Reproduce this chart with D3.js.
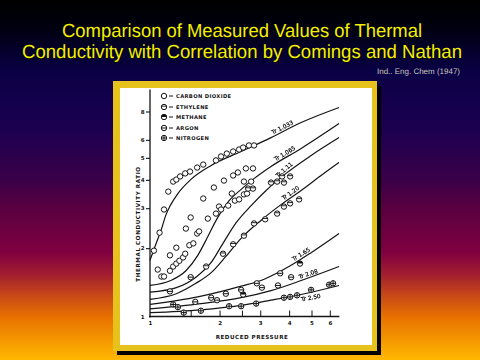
<!DOCTYPE html>
<html><head><meta charset="utf-8">
<script src="https://cdn.jsdelivr.net/npm/d3@7/dist/d3.min.js"></script>
<style>html,body{margin:0;padding:0;overflow:hidden;background:#000} text{text-rendering:geometricPrecision}</style>
</head><body>
<svg id="c" width="480" height="360"></svg>
<script>
// ---------- data ----------
const titleLines = ["Comparison of Measured Values of Thermal", "Conductivity with Correlation by Comings and Nathan"];
const sourceNote = "Ind.. Eng. Chem (1947)";
const xLabel = "REDUCED PRESSURE";
const yLabel = "THERMAL CONDUCTIVITY RATIO";
const xTickLabels = [1, 2, 3, 4, 5, 6];
const xTickMarks = [1.5, 2, 2.5, 3, 4, 5, 6];
const yTickLabels = [1, 2, 3, 4, 5, 6, 8];
const legendNames = ["CARBON DIOXIDE", "ETHYLENE", "METHANE", "ARGON", "NITROGEN"];

const curveNames = ["Tr 1.033", "Tr 1.065", "Tr 1.11", "Tr 1.20", "Tr 1.65", "Tr 2.08", "Tr 2.50"];
const tr1033Pr = [1.00, 1.06, 1.12, 1.17, 1.23, 1.32, 1.50, 1.84, 2.48, 3.34, 4.51, 6.58];
const tr1033R  = [1.77, 2.08, 2.42, 2.79, 3.11, 3.48, 4.01, 4.63, 5.33, 6.14, 7.15, 8.33];
const tr1065Pr = [1.00, 1.23, 1.43, 1.61, 1.78, 1.95, 2.20, 2.48, 2.82, 3.34, 4.51, 6.58];
const tr1065R  = [1.37, 1.44, 1.59, 1.86, 2.25, 2.70, 3.24, 3.63, 4.05, 4.58, 5.50, 7.08];
const tr111Pr  = [1.00, 1.30, 1.58, 1.84, 2.07, 2.36, 2.74, 3.18, 3.88, 4.98, 6.58];
const tr111R   = [1.28, 1.34, 1.49, 1.73, 2.10, 2.59, 3.08, 3.59, 4.27, 5.12, 6.14];
const tr120Pr  = [1.00, 1.30, 1.58, 1.84, 2.13, 2.48, 3.02, 3.69, 4.51, 5.50, 6.58];
const tr120R   = [1.19, 1.26, 1.40, 1.56, 1.84, 2.21, 2.65, 3.11, 3.59, 4.18, 4.77];
const tr165Pr  = [1.00, 1.61, 2.48, 3.12, 4.08, 4.98, 6.58];
const tr165R   = [1.13, 1.22, 1.36, 1.46, 1.68, 1.91, 2.32];
const tr208Pr  = [1.00, 1.66, 2.48, 3.34, 4.51, 6.58];
const tr208R   = [1.08, 1.14, 1.21, 1.30, 1.44, 1.66];
const tr250Pr  = [1.00, 1.66, 2.48, 3.34, 4.51, 6.58];
const tr250R   = [1.04, 1.07, 1.12, 1.18, 1.25, 1.37];
const curveLabelPr = [3.40, 3.51, 3.60, 3.80, 4.20, 4.42, 4.42];

const co2Pr = [1.04,1.10,1.15,1.20,1.26,1.30,1.35,1.42,1.49,1.60,1.70,1.93,2.03,2.15,2.29,2.43,2.53,2.68,2.82,
               1.08,1.12,1.15,1.22,1.30,1.22,1.26,1.30,1.34,1.39,1.42,1.48,1.54,1.60,1.63,1.43,1.50,1.70,1.78,1.89,
               1.93,1.99,2.03,2.09,2.18,2.26,2.29,2.33,2.40,2.43,2.55,2.60,2.63,2.79,2.55,2.74];
const co2R  = [1.95,2.34,2.96,3.55,3.93,4.01,4.14,4.27,4.35,4.53,4.67,4.87,5.07,5.22,5.33,5.44,5.55,5.67,5.67,
               1.61,1.50,1.50,1.86,2.01,1.59,1.66,1.71,1.76,1.82,1.89,2.06,2.10,2.32,2.37,2.44,2.73,3.31,2.70,3.70,
               2.84,3.05,2.96,3.97,3.08,3.48,4.18,3.24,4.31,3.28,3.45,4.49,3.48,4.49,3.93,3.93];
const ethylenePr = [2.66,2.79,3.34,3.55,3.80,3.73,4.04,1.75,2.07,2.29,2.55,2.82,3.15,3.55,3.80,4.04,4.42];
const ethyleneR  = [3.66,3.66,3.89,3.93,3.89,4.14,4.14,1.66,1.89,2.08,2.27,2.57,2.68,2.84,3.05,3.15,3.28];
const methanePr = [4.46, 2.53];
const methaneR  = [1.71, 1.25];
const argonPr = [1.50,1.22,1.57,1.84,1.95,2.13,2.48,2.90,3.05,3.58,3.66,4.08];
const argonR  = [1.49,1.29,1.16,1.21,1.18,1.26,1.31,1.40,1.34,1.37,1.55,1.49];
const nitrogenPr = [1.26,1.32,1.40,1.66,2.20,2.48,2.88,3.80,4.04,4.33,4.98,5.96,6.20];
const nitrogenR  = [1.13,1.10,1.04,1.06,1.11,1.11,1.14,1.21,1.22,1.24,1.31,1.38,1.40];

// ---------- drawing ----------
const svg = d3.select("#c");
const defs = svg.append("defs");
const bg = defs.append("linearGradient").attr("id","bg").attr("x1",0).attr("y1",0).attr("x2",0).attr("y2",1);
[[0,"#000000"],[0.08,"#000010"],[0.2,"#0a0046"],[0.36,"#1c0050"],[0.5,"#3a0048"],[0.58,"#5a0040"],
 [0.7,"#800040"],[0.76,"#a01c30"],[0.82,"#c84818"],[0.88,"#e87000"],[0.94,"#f49400"],[1,"#ffb800"]]
 .forEach(([o,c]) => bg.append("stop").attr("offset",o).attr("stop-color",c));
const gray = defs.append("filter").attr("id","gray").attr("x","-10%").attr("y","-10%").attr("width","120%").attr("height","120%");
gray.append("feColorMatrix").attr("type","saturate").attr("values",0);
svg.append("rect").attr("width",480).attr("height",360).attr("fill","url(#bg)");

// title
const tl = svg.append("g").attr("font-family","Liberation Sans, Arial, sans-serif").attr("font-size",19);
const titleW = [360, 440];
titleLines.forEach((t,i) => {
  tl.append("text").attr("x",243).attr("y",37.5+i*21).attr("text-anchor","middle").attr("fill","#000")
    .attr("textLength",titleW[i]).attr("lengthAdjust","spacingAndGlyphs").text(t);
  tl.append("text").attr("x",242).attr("y",36.5+i*21).attr("text-anchor","middle").attr("fill","#f4f000")
    .attr("textLength",titleW[i]).attr("lengthAdjust","spacingAndGlyphs").text(t);
});
svg.append("text").attr("x",460).attr("y",74).attr("text-anchor","end").attr("font-family","Liberation Sans, Arial, sans-serif")
  .attr("font-size",8).attr("fill","#c8c8b8").attr("textLength",83).attr("lengthAdjust","spacingAndGlyphs").text(sourceNote);

// frame
svg.append("rect").attr("x",117).attr("y",86).attr("width",264).attr("height",269).attr("fill","#000");
svg.append("rect").attr("x",113).attr("y",81).attr("width",264).attr("height",270).attr("fill","#e8c21c");
svg.append("rect").attr("x",120).attr("y",88).attr("width",252).attr("height",257).attr("fill","#fff");

const ink = "#141414";
const x = d3.scaleLog().domain([1, 6]).range([150, 329.8]);
const y = d3.scaleLog().domain([1, 10]).range([316.5, 89.5]);

// axes
const ax = svg.append("g").attr("stroke",ink).attr("fill","none");
ax.append("line").attr("x1",x(1)).attr("x2",x(1)).attr("y1",y(10)).attr("y2",y(1)+1).attr("stroke-width",1.3);
ax.append("line").attr("x1",x(1)-1).attr("x2",x(6.6)).attr("y1",y(1)).attr("y2",y(1)).attr("stroke-width",1.3);
const yAxis = d3.axisLeft(y).tickValues(yTickLabels).tickFormat(d3.format("d")).tickSize(4).tickPadding(1.5);
const gy = svg.append("g").attr("transform",`translate(${x(1)},0)`).call(yAxis);
gy.select(".domain").remove();
gy.selectAll("line").attr("stroke",ink).attr("stroke-width",1.1);
gy.selectAll("text").attr("font-family","DejaVu Sans, sans-serif").attr("font-weight","bold").attr("font-size",5.5).attr("fill",ink);
gy.selectAll(".tick").filter(d => d===1).select("line").remove();

const xAxisTicks = d3.axisTop(x).tickValues(xTickMarks).tickFormat("").tickSize(6);
const gx = svg.append("g").attr("transform",`translate(0,${y(1)})`).call(xAxisTicks);
gx.select(".domain").remove();
gx.selectAll("line").attr("stroke",ink).attr("stroke-width",1);
const xAxisLabels = d3.axisBottom(x).tickValues(xTickLabels).tickFormat(d3.format("d")).tickSize(0).tickPadding(5);
const gx2 = svg.append("g").attr("transform",`translate(0,${y(1)})`).call(xAxisLabels);
gx2.select(".domain").remove();
gx2.selectAll("text").attr("font-family","DejaVu Sans, sans-serif").attr("font-weight","bold").attr("font-size",5.5).attr("fill",ink);

svg.append("text").attr("transform",`translate(140,${224}) rotate(-90)`).attr("text-anchor","middle")
  .attr("font-family","DejaVu Sans, sans-serif").attr("font-weight","bold").attr("font-size",5.6)
  .attr("letter-spacing",0.6).attr("fill",ink).text(yLabel);
svg.append("text").attr("x",252).attr("y",339).attr("text-anchor","middle")
  .attr("font-family","DejaVu Sans, sans-serif").attr("font-weight","bold").attr("font-size",5.6)
  .attr("letter-spacing",0.5).attr("fill",ink).text(xLabel);

// curves
const curvesPr = [tr1033Pr, tr1065Pr, tr111Pr, tr120Pr, tr165Pr, tr208Pr, tr250Pr];
const curvesR  = [tr1033R, tr1065R, tr111R, tr120R, tr165R, tr208R, tr250R];
const line = d3.line().x(d => x(d[0])).y(d => y(d[1])).curve(d3.curveMonotoneX);
const labelLayer = svg.append("g").attr("filter","url(#gray)");
curvesPr.forEach((prs, i) => {
  const pts = prs.map((p, j) => [p, curvesR[i][j]]);
  svg.append("path").attr("d", line(pts)).attr("fill","none").attr("stroke",ink).attr("stroke-width",1.2);
  const lp = curveLabelPr[i];
  let k = d3.bisectRight(prs, lp) - 1; k = Math.max(0, Math.min(prs.length - 2, k));
  const x0 = x(prs[k]), x1 = x(prs[k+1]), y0 = y(curvesR[i][k]), y1 = y(curvesR[i][k+1]);
  const t = (x(lp) - x0) / (x1 - x0);
  const px = x0 + t*(x1-x0), py = y0 + t*(y1-y0);
  const ang = Math.atan2(y1-y0, x1-x0) * 180 / Math.PI;
  const below = i === 6;
  labelLayer.append("text").attr("transform",`translate(${px},${py}) rotate(${ang})`)
    .attr("dy", below ? 7 : -2).attr("dx", 1)
    .attr("font-family","DejaVu Sans, sans-serif").attr("font-size",5.8)
    .attr("fill","#000").attr("stroke","#000").attr("stroke-width",0.2).text(curveNames[i]);
});

// markers
function marker(g, kind) {
  const r = 2.7;
  g.append("circle").attr("r", r).attr("fill","#fff").attr("stroke",ink).attr("stroke-width",1);
  if (kind === 1) g.append("line").attr("x1",-r).attr("x2",r).attr("y1",-0.8).attr("y2",-0.8).attr("stroke",ink).attr("stroke-width",0.9);
  if (kind === 2) g.append("path").attr("d",`M${-r},0A${r},${r} 0 0 1 ${r},0Z`).attr("fill",ink);
  if (kind === 3) g.append("line").attr("x1",-r).attr("x2",r).attr("y1",0).attr("y2",0).attr("stroke",ink).attr("stroke-width",1);
  if (kind === 4) { g.append("line").attr("x1",-r).attr("x2",r).attr("stroke",ink).attr("stroke-width",1);
                    g.append("line").attr("y1",-r).attr("y2",r).attr("stroke",ink).attr("stroke-width",1); }
}
const gases = [[co2Pr, co2R], [ethylenePr, ethyleneR], [methanePr, methaneR], [argonPr, argonR], [nitrogenPr, nitrogenR]];
gases.forEach(([prs, rs], kind) => {
  prs.forEach((p, j) => {
    const g = svg.append("g").attr("transform",`translate(${x(p)},${y(rs[j])})`);
    marker(g, kind);
  });
});

// legend
legendNames.forEach((n, i) => {
  const ly = [96, 107, 117, 128, 138][i];
  const g = svg.append("g").attr("transform",`translate(164,${ly})`);
  marker(g, i);
  g.append("line").attr("x1",5).attr("x2",9).attr("stroke",ink).attr("stroke-width",1);
  g.append("text").attr("x",12).attr("y",2).attr("font-family","DejaVu Sans, sans-serif").attr("font-weight","bold")
    .attr("font-size",5.2).attr("letter-spacing",0.35).attr("fill",ink).text(n);
});
</script>
</body></html>
